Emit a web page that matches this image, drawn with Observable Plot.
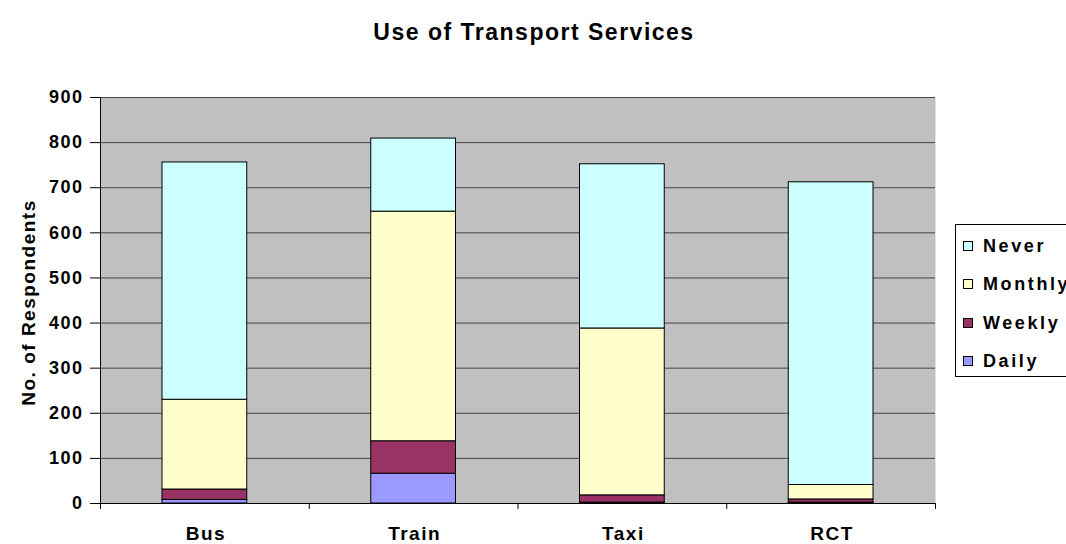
<!DOCTYPE html>
<html>
<head>
<meta charset="utf-8">
<script src="https://cdn.jsdelivr.net/npm/d3@7"></script>
<script src="https://cdn.jsdelivr.net/npm/@observablehq/plot@0.6"></script>
<style>
  html, body { margin: 0; padding: 0; background: #fff; overflow: hidden; }
  #wrap { position: relative; width: 1066px; height: 544px; overflow: hidden; font-family: "Liberation Sans", Arial, sans-serif; }
  #wrap svg text { letter-spacing: 1.5px; }
  #wrap svg g[aria-label="chart-title"] text { letter-spacing: 1.2px; }
  #wrap svg g[aria-label="y-title"] text { letter-spacing: 2.4px; }
  #legend { position: absolute; left: 955px; top: 224px; width: 200px; height: 153px; border: 1px solid #000; background: #fff; box-sizing: border-box; }
  .li { position: absolute; left: 7px; font-weight: bold; font-size: 18px; letter-spacing: 2.6px; line-height: 18px; height: 18px; }
  .sw { position: absolute; left: 0; top: 4px; width: 8px; height: 8px; border: 1px solid #000; }
  .lt { position: absolute; left: 20px; top: 0; white-space: nowrap; }
</style>
</head>
<body>
<div id="wrap"></div>
<script>
const categories = ["Bus", "Train", "Taxi", "RCT"];
const series = ["Daily", "Weekly", "Monthly", "Never"];
const daily   = [8, 66, 2, 2];
const weekly  = [23, 72, 16, 7];
const monthly = [199, 509, 370, 32];
const never   = [526, 162, 364, 671];
const yTicks = [0, 100, 200, 300, 400, 500, 600, 700, 800, 900];
const colors = {Daily: "#9999ff", Weekly: "#993366", Monthly: "#ffffcc", Never: "#ccffff"};
const title = "Use of Transport Services";
const yLabel = "No. of Respondents";

const valuesBySeries = {Daily: daily, Weekly: weekly, Monthly: monthly, Never: never};
const rows = [];
categories.forEach((cat, i) => {
  let cum = 0;
  series.forEach(s => {
    const v = valuesBySeries[s][i];
    rows.push({cat, i, series: s, y1: cum, y2: cum + v});
    cum += v;
  });
});

const font = "Liberation Sans, Arial, sans-serif";
const chart = Plot.plot({
  width: 1066,
  height: 544,
  marginLeft: 100,
  marginRight: 131,
  marginTop: 97,
  marginBottom: 41,
  style: {fontFamily: font, background: "#fff"},
  x: {domain: [0, categories.length], axis: null},
  y: {domain: [0, 900], axis: null},
  marks: [
    Plot.frame({fill: "#c0c0c0", stroke: null}),
    Plot.ruleY(yTicks, {stroke: "#444", strokeWidth: 1}),
    Plot.rect(rows, {
      x1: d => d.i, x2: d => d.i + 1, y1: "y1", y2: "y2",
      fill: d => colors[d.series], stroke: "#000", strokeWidth: 1,
      insetLeft: 62, insetRight: 62
    }),
    Plot.axisY({ticks: yTicks, tickSize: 10, tickPadding: 7, fontSize: 18, fontWeight: "bold", label: null, stroke: "#000", fill: "#000"}),
    Plot.ruleX([0], {stroke: "#000"}),
    Plot.ruleY([0], {stroke: "#000"}),
    Plot.axisX({ticks: d3.range(categories.length + 1), tickSize: 6, tickFormat: () => "", label: null}),
    Plot.axisX({ticks: categories.map((c, i) => i + 0.5), tickSize: 0, tickPadding: 23, tickFormat: v => categories[Math.floor(v)], fontSize: 19, fontWeight: "bold", label: null, fill: "#000", dx: 1}),
    Plot.text([yLabel], {ariaLabel: "y-title", frameAnchor: "left", dx: -72, dy: 2, rotate: -90, fontSize: 19, fontWeight: "bold", fill: "#000", textAnchor: "middle"}),
    Plot.text([title], {ariaLabel: "chart-title", frameAnchor: "top", dx: 16, dy: -74, fontSize: 23, fontWeight: "bold", fill: "#000", textAnchor: "middle"})
  ]
});
const wrap = document.getElementById("wrap");
wrap.appendChild(chart);

const legend = document.createElement("div");
legend.id = "legend";
const legendOrder = ["Never", "Monthly", "Weekly", "Daily"];
legendOrder.forEach((s, k) => {
  const item = document.createElement("div");
  item.className = "li";
  item.style.top = (12 + k * 38.3) + "px";
  const sw = document.createElement("span");
  sw.className = "sw";
  sw.style.background = colors[s];
  const t = document.createElement("span");
  t.className = "lt";
  t.textContent = s;
  item.appendChild(sw);
  item.appendChild(t);
  legend.appendChild(item);
});
wrap.appendChild(legend);
</script>
</body>
</html>
